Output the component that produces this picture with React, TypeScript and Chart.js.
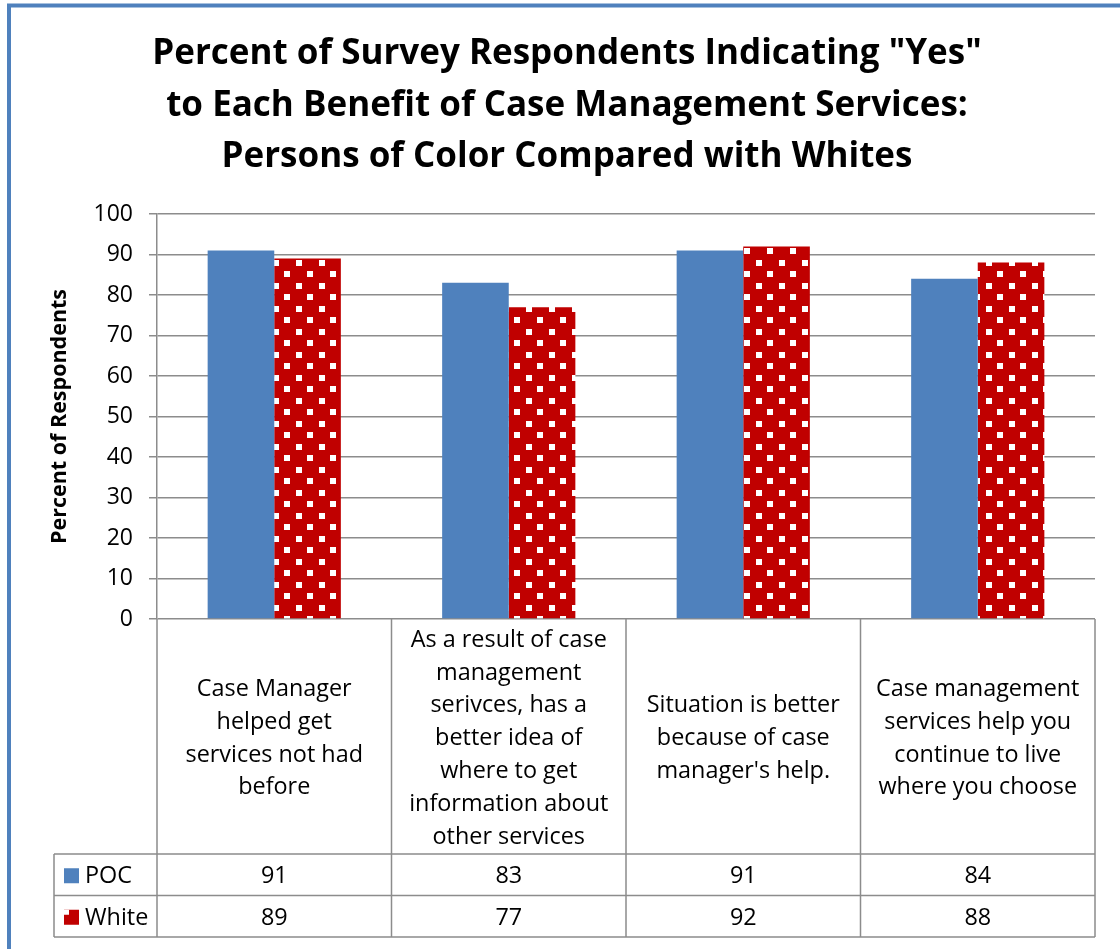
import React, { useEffect, useRef } from "react";
import { Chart, registerables } from "chart.js";

Chart.register(...registerables);

const titleLines = [
  'Percent of Survey Respondents Indicating "Yes"',
  "to Each Benefit of Case Management Services:",
  "Persons of Color Compared with Whites",
];
const categoryLines = [
  ["Case Manager", "helped get", "services not had", "before"],
  [
    "As a result of case",
    "management",
    "serivces, has a",
    "better idea of",
    "where to get",
    "information about",
    "other services",
  ],
  ["Situation is better", "because of case", "manager's help."],
  ["Case management", "services help you", "continue to live", "where you choose"],
];
const seriesNames = ["POC", "White"];
const pocValues = [91, 83, 91, 84];
const whiteValues = [89, 77, 92, 88];
const yTitle = "Percent of Respondents";
const yMin = 0;
const yMax = 100;
const yStep = 10;

const BLUE = "#4F81BD";
const RED = "#C00000";
const GRID = "#8c8c8c";
const FONT = "'Open Sans'";

function makePattern(ctx: CanvasRenderingContext2D): CanvasPattern | string {
  const c = document.createElement("canvas");
  c.width = 46;
  c.height = 23;
  const g = c.getContext("2d");
  if (!g) return RED;
  g.fillStyle = RED;
  g.fillRect(0, 0, 46, 23);
  g.fillStyle = "#ffffff";
  g.fillRect(0, 0, 6, 6);
  g.fillRect(23, 0, 6, 6);
  g.fillRect(11, 11, 6, 6);
  g.fillRect(34, 11, 6, 6);
  const p = ctx.createPattern(c, "repeat");
  if (!p) return RED;
  try {
    p.setTransform(new DOMMatrix().translate(20, 7));
  } catch (e) {}
  return p;
}

const decorPlugin = {
  id: "decor",
  beforeDraw(chart: any) {
    const { ctx, width, height } = chart;
    ctx.save();
    ctx.fillStyle = "#ffffff";
    ctx.fillRect(0, 0, width, height);
    ctx.strokeStyle = "#4f81bd";
    ctx.lineWidth = 4;
    ctx.strokeRect(9, 5.5, width + 40, height + 40);
    // title
    ctx.fillStyle = "#000";
    ctx.font = `bold 35px ${FONT}`;
    ctx.textAlign = "center";
    ctx.textBaseline = "alphabetic";
    titleLines.forEach((t, i) => {
      ctx.fillText(t, 567, 64 + i * 51.5);
    });
    ctx.restore();
  },
  afterDraw(chart: any) {
    const { ctx, chartArea: ca, scales } = chart;
    const x = scales.x;
    const n = categoryLines.length;
    const bounds: number[] = [ca.left];
    for (let i = 0; i < n - 1; i++) {
      bounds.push((x.getPixelForValue(i) + x.getPixelForValue(i + 1)) / 2);
    }
    bounds.push(ca.right);
    const labelBottom = ca.bottom + 235;
    const rowH = 41.5;
    const tableBottom = labelBottom + rowH * 2;
    const legendLeft = 54;
    const textShift = 2;

    ctx.save();
    ctx.strokeStyle = GRID;
    ctx.lineWidth = 1.5;
    ctx.beginPath();
    bounds.forEach((bx) => {
      ctx.moveTo(bx, ca.bottom);
      ctx.lineTo(bx, tableBottom);
    });
    ctx.moveTo(legendLeft, labelBottom);
    ctx.lineTo(legendLeft, tableBottom);
    [labelBottom, labelBottom + rowH, tableBottom].forEach((yy) => {
      ctx.moveTo(legendLeft, yy);
      ctx.lineTo(ca.right, yy);
    });
    ctx.stroke();

    // category labels
    ctx.fillStyle = "#000";
    ctx.textAlign = "center";
    ctx.textBaseline = "middle";
    ctx.font = `23.4px ${FONT}`;
    const lh = 32.8;
    const midY = (ca.bottom + labelBottom) / 2 + textShift;
    categoryLines.forEach((lines, i) => {
      const cx = (bounds[i] + bounds[i + 1]) / 2;
      const y0 = midY - ((lines.length - 1) * lh) / 2;
      lines.forEach((l, j) => ctx.fillText(l, cx, y0 + j * lh));
    });

    // values
    const rows = [pocValues, whiteValues];
    rows.forEach((vals, r) => {
      const cy = labelBottom + rowH * r + rowH / 2;
      vals.forEach((v, i) => {
        const cx = (bounds[i] + bounds[i + 1]) / 2;
        ctx.textAlign = "center";
        ctx.fillText(String(v), cx, cy + textShift);
      });
      // legend keys
      const kx = legendLeft + 10;
      const ky = cy - 6.5;
      if (r === 0) {
        ctx.fillStyle = BLUE;
        ctx.fillRect(kx, ky, 15, 15);
      } else {
        ctx.fillStyle = RED;
        ctx.fillRect(kx, ky, 15, 15);
        ctx.fillStyle = "#fff";
        ctx.fillRect(kx, ky, 5, 5);
      }
      ctx.fillStyle = "#000";
      ctx.textAlign = "left";
      ctx.fillText(seriesNames[r], kx + 21, cy + textShift);
    });
    ctx.restore();
  },
};

export default function App() {
  const ref = useRef<HTMLCanvasElement | null>(null);
  useEffect(() => {
    const canvas = ref.current;
    if (!canvas) return;
    const ctx = canvas.getContext("2d");
    if (!ctx) return;
    const pattern = makePattern(ctx);
    const chart = new Chart(canvas, {
      type: "bar",
      data: {
        labels: categoryLines.map((l) => l.join(" ")),
        datasets: [
          {
            label: seriesNames[0],
            data: pocValues,
            backgroundColor: BLUE,
            borderWidth: 0,
            categoryPercentage: 0.568,
            barPercentage: 1,
          },
          {
            label: seriesNames[1],
            data: whiteValues,
            backgroundColor: pattern as any,
            borderWidth: 0,
            categoryPercentage: 0.568,
            barPercentage: 1,
          },
        ],
      },
      options: {
        animation: false,
        responsive: false,
        maintainAspectRatio: false,
        devicePixelRatio: 1,
        layout: { padding: { left: 43, right: 25, top: 214, bottom: 330 } },
        plugins: {
          legend: { display: false },
          tooltip: { enabled: false },
          title: { display: false },
        },
        scales: {
          x: { display: false },
          y: {
            min: yMin,
            max: yMax,
            ticks: {
              stepSize: yStep,
              color: "#000",
              padding: 16,
              font: { family: FONT, size: 23 },
            },
            grid: { color: GRID, lineWidth: 1.5, tickLength: 8 },
            border: { color: GRID, width: 1.5 },
            title: {
              display: true,
              text: yTitle,
              color: "#000",
              font: { family: FONT, size: 21.5, weight: "bold" },
              padding: { top: 4, bottom: 0 },
            },
            afterFit: (s: any) => {
              s.width = 114;
            },
          },
        },
      },
      plugins: [decorPlugin],
    });
    return () => chart.destroy();
  }, []);
  return (
    <div style={{ position: "fixed", left: 0, top: 0, width: 1120, height: 949 }}>
      <canvas ref={ref} width={1120} height={949} style={{ width: 1120, height: 949, display: "block" }} />
    </div>
  );
}
